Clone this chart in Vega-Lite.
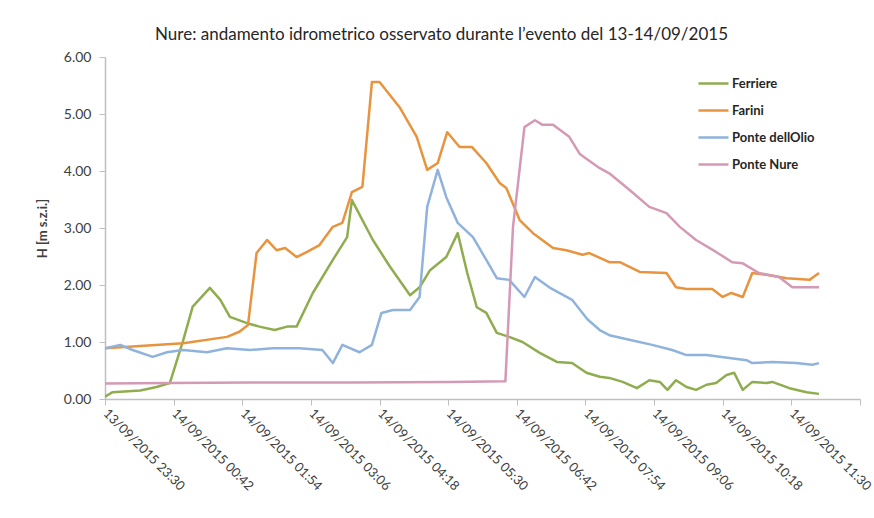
{
  "$schema": "https://vega.github.io/schema/vega-lite/v6.json",
  "width": 755,
  "height": 342,
  "autosize": "none",
  "padding": {"left": 105, "top": 57, "right": 14, "bottom": 119},
  "background": "white",
  "title": {
    "text": "Nure: andamento idrometrico osservato durante l’evento del 13-14/09/2015",
    "anchor": "middle",
    "frame": "group",
    "dx": -41,
    "offset": 6,
    "font": "Lato",
    "fontSize": 17,
    "fontWeight": "normal",
    "color": "#262626"
  },
  "data": {
    "values": [
      {"s": "Ferriere", "t": "2015-09-13T23:30", "h": 0.04},
      {"s": "Ferriere", "t": "2015-09-13T23:38", "h": 0.12},
      {"s": "Ferriere", "t": "2015-09-14T00:07", "h": 0.15},
      {"s": "Ferriere", "t": "2015-09-14T00:24", "h": 0.21},
      {"s": "Ferriere", "t": "2015-09-14T00:38", "h": 0.28},
      {"s": "Ferriere", "t": "2015-09-14T00:52", "h": 1.03},
      {"s": "Ferriere", "t": "2015-09-14T01:02", "h": 1.62},
      {"s": "Ferriere", "t": "2015-09-14T01:20", "h": 1.95},
      {"s": "Ferriere", "t": "2015-09-14T01:31", "h": 1.74},
      {"s": "Ferriere", "t": "2015-09-14T01:41", "h": 1.44},
      {"s": "Ferriere", "t": "2015-09-14T01:59", "h": 1.33},
      {"s": "Ferriere", "t": "2015-09-14T02:12", "h": 1.27},
      {"s": "Ferriere", "t": "2015-09-14T02:28", "h": 1.21},
      {"s": "Ferriere", "t": "2015-09-14T02:41", "h": 1.27},
      {"s": "Ferriere", "t": "2015-09-14T02:51", "h": 1.27},
      {"s": "Ferriere", "t": "2015-09-14T03:08", "h": 1.86},
      {"s": "Ferriere", "t": "2015-09-14T03:29", "h": 2.44},
      {"s": "Ferriere", "t": "2015-09-14T03:44", "h": 2.84},
      {"s": "Ferriere", "t": "2015-09-14T03:49", "h": 3.49},
      {"s": "Ferriere", "t": "2015-09-14T04:11", "h": 2.79},
      {"s": "Ferriere", "t": "2015-09-14T04:29", "h": 2.32},
      {"s": "Ferriere", "t": "2015-09-14T04:50", "h": 1.82},
      {"s": "Ferriere", "t": "2015-09-14T05:00", "h": 1.96},
      {"s": "Ferriere", "t": "2015-09-14T05:11", "h": 2.26},
      {"s": "Ferriere", "t": "2015-09-14T05:28", "h": 2.49},
      {"s": "Ferriere", "t": "2015-09-14T05:40", "h": 2.91},
      {"s": "Ferriere", "t": "2015-09-14T05:50", "h": 2.21},
      {"s": "Ferriere", "t": "2015-09-14T06:00", "h": 1.61},
      {"s": "Ferriere", "t": "2015-09-14T06:10", "h": 1.51},
      {"s": "Ferriere", "t": "2015-09-14T06:21", "h": 1.16},
      {"s": "Ferriere", "t": "2015-09-14T06:34", "h": 1.09},
      {"s": "Ferriere", "t": "2015-09-14T06:48", "h": 1.0},
      {"s": "Ferriere", "t": "2015-09-14T07:06", "h": 0.81},
      {"s": "Ferriere", "t": "2015-09-14T07:24", "h": 0.65},
      {"s": "Ferriere", "t": "2015-09-14T07:40", "h": 0.63},
      {"s": "Ferriere", "t": "2015-09-14T07:55", "h": 0.46},
      {"s": "Ferriere", "t": "2015-09-14T08:09", "h": 0.39},
      {"s": "Ferriere", "t": "2015-09-14T08:19", "h": 0.37},
      {"s": "Ferriere", "t": "2015-09-14T08:33", "h": 0.3},
      {"s": "Ferriere", "t": "2015-09-14T08:48", "h": 0.19},
      {"s": "Ferriere", "t": "2015-09-14T09:01", "h": 0.33},
      {"s": "Ferriere", "t": "2015-09-14T09:12", "h": 0.3},
      {"s": "Ferriere", "t": "2015-09-14T09:20", "h": 0.16},
      {"s": "Ferriere", "t": "2015-09-14T09:29", "h": 0.33},
      {"s": "Ferriere", "t": "2015-09-14T09:40", "h": 0.21},
      {"s": "Ferriere", "t": "2015-09-14T09:50", "h": 0.16},
      {"s": "Ferriere", "t": "2015-09-14T10:01", "h": 0.25},
      {"s": "Ferriere", "t": "2015-09-14T10:11", "h": 0.28},
      {"s": "Ferriere", "t": "2015-09-14T10:22", "h": 0.42},
      {"s": "Ferriere", "t": "2015-09-14T10:30", "h": 0.46},
      {"s": "Ferriere", "t": "2015-09-14T10:39", "h": 0.16},
      {"s": "Ferriere", "t": "2015-09-14T10:49", "h": 0.3},
      {"s": "Ferriere", "t": "2015-09-14T11:04", "h": 0.28},
      {"s": "Ferriere", "t": "2015-09-14T11:10", "h": 0.3},
      {"s": "Ferriere", "t": "2015-09-14T11:28", "h": 0.19},
      {"s": "Ferriere", "t": "2015-09-14T11:46", "h": 0.12},
      {"s": "Ferriere", "t": "2015-09-14T11:59", "h": 0.09},

      {"s": "Farini", "t": "2015-09-13T23:30", "h": 0.89},
      {"s": "Farini", "t": "2015-09-14T00:52", "h": 0.98},
      {"s": "Farini", "t": "2015-09-14T01:38", "h": 1.09},
      {"s": "Farini", "t": "2015-09-14T01:51", "h": 1.18},
      {"s": "Farini", "t": "2015-09-14T02:00", "h": 1.3},
      {"s": "Farini", "t": "2015-09-14T02:09", "h": 2.56},
      {"s": "Farini", "t": "2015-09-14T02:20", "h": 2.79},
      {"s": "Farini", "t": "2015-09-14T02:30", "h": 2.61},
      {"s": "Farini", "t": "2015-09-14T02:39", "h": 2.65},
      {"s": "Farini", "t": "2015-09-14T02:51", "h": 2.49},
      {"s": "Farini", "t": "2015-09-14T03:02", "h": 2.58},
      {"s": "Farini", "t": "2015-09-14T03:15", "h": 2.7},
      {"s": "Farini", "t": "2015-09-14T03:29", "h": 3.02},
      {"s": "Farini", "t": "2015-09-14T03:39", "h": 3.09},
      {"s": "Farini", "t": "2015-09-14T03:49", "h": 3.63},
      {"s": "Farini", "t": "2015-09-14T04:00", "h": 3.72},
      {"s": "Farini", "t": "2015-09-14T04:10", "h": 5.56},
      {"s": "Farini", "t": "2015-09-14T04:18", "h": 5.56},
      {"s": "Farini", "t": "2015-09-14T04:39", "h": 5.12},
      {"s": "Farini", "t": "2015-09-14T04:57", "h": 4.6},
      {"s": "Farini", "t": "2015-09-14T05:08", "h": 4.02},
      {"s": "Farini", "t": "2015-09-14T05:19", "h": 4.14},
      {"s": "Farini", "t": "2015-09-14T05:29", "h": 4.68},
      {"s": "Farini", "t": "2015-09-14T05:42", "h": 4.42},
      {"s": "Farini", "t": "2015-09-14T05:55", "h": 4.42},
      {"s": "Farini", "t": "2015-09-14T06:10", "h": 4.14},
      {"s": "Farini", "t": "2015-09-14T06:24", "h": 3.79},
      {"s": "Farini", "t": "2015-09-14T06:31", "h": 3.7},
      {"s": "Farini", "t": "2015-09-14T06:45", "h": 3.14},
      {"s": "Farini", "t": "2015-09-14T06:59", "h": 2.91},
      {"s": "Farini", "t": "2015-09-14T07:20", "h": 2.65},
      {"s": "Farini", "t": "2015-09-14T07:34", "h": 2.61},
      {"s": "Farini", "t": "2015-09-14T07:51", "h": 2.53},
      {"s": "Farini", "t": "2015-09-14T07:58", "h": 2.56},
      {"s": "Farini", "t": "2015-09-14T08:19", "h": 2.4},
      {"s": "Farini", "t": "2015-09-14T08:30", "h": 2.4},
      {"s": "Farini", "t": "2015-09-14T08:51", "h": 2.23},
      {"s": "Farini", "t": "2015-09-14T09:19", "h": 2.21},
      {"s": "Farini", "t": "2015-09-14T09:29", "h": 1.96},
      {"s": "Farini", "t": "2015-09-14T09:40", "h": 1.93},
      {"s": "Farini", "t": "2015-09-14T10:07", "h": 1.93},
      {"s": "Farini", "t": "2015-09-14T10:18", "h": 1.79},
      {"s": "Farini", "t": "2015-09-14T10:27", "h": 1.86},
      {"s": "Farini", "t": "2015-09-14T10:39", "h": 1.79},
      {"s": "Farini", "t": "2015-09-14T10:49", "h": 2.21},
      {"s": "Farini", "t": "2015-09-14T11:04", "h": 2.18},
      {"s": "Farini", "t": "2015-09-14T11:25", "h": 2.12},
      {"s": "Farini", "t": "2015-09-14T11:49", "h": 2.09},
      {"s": "Farini", "t": "2015-09-14T11:59", "h": 2.21},

      {"s": "Ponte dellOlio", "t": "2015-09-13T23:30", "h": 0.89},
      {"s": "Ponte dellOlio", "t": "2015-09-13T23:46", "h": 0.95},
      {"s": "Ponte dellOlio", "t": "2015-09-13T23:59", "h": 0.86},
      {"s": "Ponte dellOlio", "t": "2015-09-14T00:20", "h": 0.74},
      {"s": "Ponte dellOlio", "t": "2015-09-14T00:35", "h": 0.82},
      {"s": "Ponte dellOlio", "t": "2015-09-14T00:52", "h": 0.86},
      {"s": "Ponte dellOlio", "t": "2015-09-14T01:17", "h": 0.82},
      {"s": "Ponte dellOlio", "t": "2015-09-14T01:38", "h": 0.89},
      {"s": "Ponte dellOlio", "t": "2015-09-14T02:02", "h": 0.86},
      {"s": "Ponte dellOlio", "t": "2015-09-14T02:26", "h": 0.89},
      {"s": "Ponte dellOlio", "t": "2015-09-14T02:54", "h": 0.89},
      {"s": "Ponte dellOlio", "t": "2015-09-14T03:18", "h": 0.86},
      {"s": "Ponte dellOlio", "t": "2015-09-14T03:29", "h": 0.63},
      {"s": "Ponte dellOlio", "t": "2015-09-14T03:39", "h": 0.95},
      {"s": "Ponte dellOlio", "t": "2015-09-14T03:57", "h": 0.82},
      {"s": "Ponte dellOlio", "t": "2015-09-14T04:10", "h": 0.95},
      {"s": "Ponte dellOlio", "t": "2015-09-14T04:20", "h": 1.51},
      {"s": "Ponte dellOlio", "t": "2015-09-14T04:32", "h": 1.56},
      {"s": "Ponte dellOlio", "t": "2015-09-14T04:50", "h": 1.56},
      {"s": "Ponte dellOlio", "t": "2015-09-14T05:00", "h": 1.79},
      {"s": "Ponte dellOlio", "t": "2015-09-14T05:08", "h": 3.37},
      {"s": "Ponte dellOlio", "t": "2015-09-14T05:19", "h": 4.02},
      {"s": "Ponte dellOlio", "t": "2015-09-14T05:28", "h": 3.54},
      {"s": "Ponte dellOlio", "t": "2015-09-14T05:40", "h": 3.09},
      {"s": "Ponte dellOlio", "t": "2015-09-14T05:56", "h": 2.84},
      {"s": "Ponte dellOlio", "t": "2015-09-14T06:10", "h": 2.44},
      {"s": "Ponte dellOlio", "t": "2015-09-14T06:21", "h": 2.12},
      {"s": "Ponte dellOlio", "t": "2015-09-14T06:34", "h": 2.09},
      {"s": "Ponte dellOlio", "t": "2015-09-14T06:50", "h": 1.79},
      {"s": "Ponte dellOlio", "t": "2015-09-14T07:01", "h": 2.14},
      {"s": "Ponte dellOlio", "t": "2015-09-14T07:16", "h": 1.96},
      {"s": "Ponte dellOlio", "t": "2015-09-14T07:40", "h": 1.74},
      {"s": "Ponte dellOlio", "t": "2015-09-14T07:56", "h": 1.4},
      {"s": "Ponte dellOlio", "t": "2015-09-14T08:09", "h": 1.21},
      {"s": "Ponte dellOlio", "t": "2015-09-14T08:19", "h": 1.12},
      {"s": "Ponte dellOlio", "t": "2015-09-14T08:40", "h": 1.04},
      {"s": "Ponte dellOlio", "t": "2015-09-14T09:04", "h": 0.95},
      {"s": "Ponte dellOlio", "t": "2015-09-14T09:25", "h": 0.86},
      {"s": "Ponte dellOlio", "t": "2015-09-14T09:40", "h": 0.77},
      {"s": "Ponte dellOlio", "t": "2015-09-14T10:01", "h": 0.77},
      {"s": "Ponte dellOlio", "t": "2015-09-14T10:25", "h": 0.72},
      {"s": "Ponte dellOlio", "t": "2015-09-14T10:43", "h": 0.68},
      {"s": "Ponte dellOlio", "t": "2015-09-14T10:49", "h": 0.63},
      {"s": "Ponte dellOlio", "t": "2015-09-14T11:10", "h": 0.65},
      {"s": "Ponte dellOlio", "t": "2015-09-14T11:35", "h": 0.63},
      {"s": "Ponte dellOlio", "t": "2015-09-14T11:52", "h": 0.6},
      {"s": "Ponte dellOlio", "t": "2015-09-14T11:59", "h": 0.63},

      {"s": "Ponte Nure", "t": "2015-09-13T23:30", "h": 0.27},
      {"s": "Ponte Nure", "t": "2015-09-14T00:38", "h": 0.28},
      {"s": "Ponte Nure", "t": "2015-09-14T02:02", "h": 0.29},
      {"s": "Ponte Nure", "t": "2015-09-14T03:47", "h": 0.29},
      {"s": "Ponte Nure", "t": "2015-09-14T05:32", "h": 0.3},
      {"s": "Ponte Nure", "t": "2015-09-14T06:30", "h": 0.31},
      {"s": "Ponte Nure", "t": "2015-09-14T06:38", "h": 3.02},
      {"s": "Ponte Nure", "t": "2015-09-14T06:50", "h": 4.77},
      {"s": "Ponte Nure", "t": "2015-09-14T07:01", "h": 4.89},
      {"s": "Ponte Nure", "t": "2015-09-14T07:09", "h": 4.81},
      {"s": "Ponte Nure", "t": "2015-09-14T07:20", "h": 4.81},
      {"s": "Ponte Nure", "t": "2015-09-14T07:37", "h": 4.6},
      {"s": "Ponte Nure", "t": "2015-09-14T07:48", "h": 4.3},
      {"s": "Ponte Nure", "t": "2015-09-14T08:09", "h": 4.05},
      {"s": "Ponte Nure", "t": "2015-09-14T08:19", "h": 3.96},
      {"s": "Ponte Nure", "t": "2015-09-14T08:40", "h": 3.67},
      {"s": "Ponte Nure", "t": "2015-09-14T09:01", "h": 3.37},
      {"s": "Ponte Nure", "t": "2015-09-14T09:19", "h": 3.26},
      {"s": "Ponte Nure", "t": "2015-09-14T09:33", "h": 3.02},
      {"s": "Ponte Nure", "t": "2015-09-14T09:50", "h": 2.79},
      {"s": "Ponte Nure", "t": "2015-09-14T10:11", "h": 2.58},
      {"s": "Ponte Nure", "t": "2015-09-14T10:28", "h": 2.4},
      {"s": "Ponte Nure", "t": "2015-09-14T10:39", "h": 2.38},
      {"s": "Ponte Nure", "t": "2015-09-14T10:56", "h": 2.21},
      {"s": "Ponte Nure", "t": "2015-09-14T11:17", "h": 2.14},
      {"s": "Ponte Nure", "t": "2015-09-14T11:31", "h": 1.96},
      {"s": "Ponte Nure", "t": "2015-09-14T11:46", "h": 1.96},
      {"s": "Ponte Nure", "t": "2015-09-14T11:59", "h": 1.96}
    ]
  },
  "mark": {"type": "line", "strokeWidth": 2.5, "strokeJoin": "round", "clip": true},
  "encoding": {
    "x": {
      "field": "t",
      "type": "temporal",
      "scale": {
        "domain": [
          {"year": 2015, "month": 9, "date": 13, "hours": 23, "minutes": 30},
          {"year": 2015, "month": 9, "date": 14, "hours": 12, "minutes": 42}
        ]
      },
      "axis": {
        "title": null,
        "grid": false,
        "values": [
          {"year": 2015, "month": 9, "date": 13, "hours": 23, "minutes": 30},
          {"year": 2015, "month": 9, "date": 14, "hours": 0, "minutes": 42},
          {"year": 2015, "month": 9, "date": 14, "hours": 1, "minutes": 54},
          {"year": 2015, "month": 9, "date": 14, "hours": 3, "minutes": 6},
          {"year": 2015, "month": 9, "date": 14, "hours": 4, "minutes": 18},
          {"year": 2015, "month": 9, "date": 14, "hours": 5, "minutes": 30},
          {"year": 2015, "month": 9, "date": 14, "hours": 6, "minutes": 42},
          {"year": 2015, "month": 9, "date": 14, "hours": 7, "minutes": 54},
          {"year": 2015, "month": 9, "date": 14, "hours": 9, "minutes": 6},
          {"year": 2015, "month": 9, "date": 14, "hours": 10, "minutes": 18},
          {"year": 2015, "month": 9, "date": 14, "hours": 11, "minutes": 30},
          {"year": 2015, "month": 9, "date": 14, "hours": 12, "minutes": 42}
        ],
        "labelExpr": "hours(datum.value) == 12 ? '' : timeFormat(datum.value, '%d/%m/%Y %H:%M')",
        "labelAngle": 45,
        "labelAlign": "left",
        "labelBaseline": "middle",
        "labelPadding": 6,
        "labelOverlap": false,
        "labelBound": false,
        "labelFlush": false,
        "labelFont": "Lato",
        "labelFontSize": 13,
        "labelColor": "#404040",
        "tickSize": 6,
        "tickColor": "#bfbfbf",
        "domainColor": "#bfbfbf",
        "domainWidth": 1.5
      }
    },
    "y": {
      "field": "h",
      "type": "quantitative",
      "scale": {"domain": [0, 6], "nice": false, "zero": true},
      "axis": {
        "title": "H [m s.z.i.]",
        "titleFont": "Lato",
        "titleFontSize": 13,
        "titleFontWeight": "bold",
        "titleColor": "#404040",
        "titlePadding": 14,
        "values": [0, 1, 2, 3, 4, 5, 6],
        "format": ".2f",
        "grid": false,
        "labelFont": "Lato",
        "labelFontSize": 14,
        "labelColor": "#404040",
        "labelPadding": 8,
        "tickSize": 6,
        "tickColor": "#bfbfbf",
        "domainColor": "#bfbfbf",
        "domainWidth": 1.5
      }
    },
    "color": {
      "field": "s",
      "type": "nominal",
      "scale": {
        "domain": ["Ferriere", "Farini", "Ponte dellOlio", "Ponte Nure"],
        "range": ["#8fad4f", "#e8943f", "#8fb3dc", "#d49ab5"]
      },
      "legend": {
        "title": null,
        "orient": "none",
        "legendX": 592,
        "legendY": 10,
        "symbolType": "stroke",
        "symbolSize": 900,
        "symbolStrokeWidth": 2.5,
        "labelFont": "Lato",
        "labelFontSize": 13,
        "labelFontWeight": "bold",
        "labelColor": "#262626",
        "labelOffset": 2,
        "rowPadding": 3
      }
    }
  },
  "config": {"view": {"stroke": null}}
}
